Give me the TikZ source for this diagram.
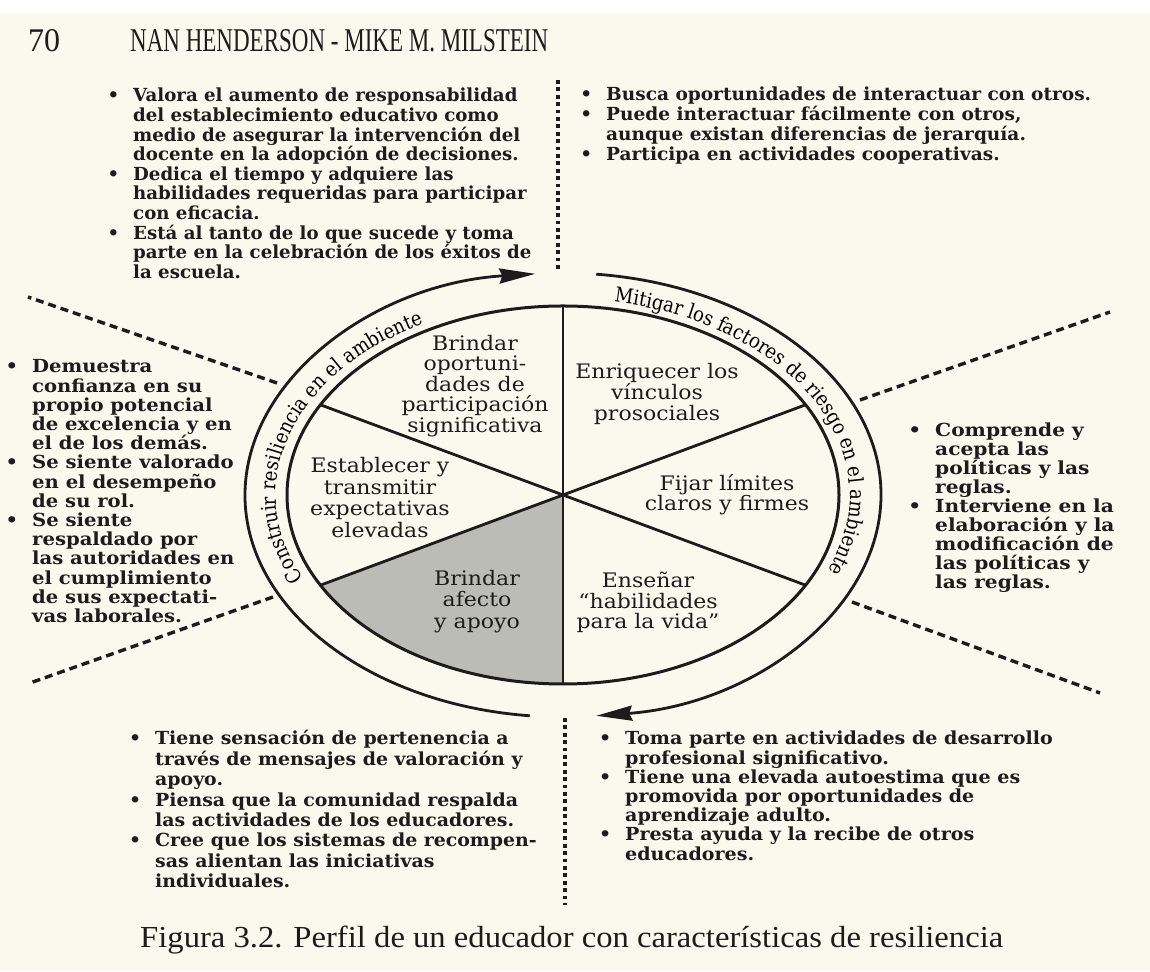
\documentclass[tikz,border=0pt]{standalone}
\usepackage{fontspec}
\setmainfont{DejaVu Serif}
\newfontfamily\headfont{Liberation Serif}
\newfontfamily\labelfont[FakeStretch=1.1]{DejaVu Serif}
\newfontfamily\ringfont[FakeStretch=0.88]{DejaVu Serif}
\newfontfamily\blkTL[FakeStretch=1.01]{DejaVu Serif}
\newfontfamily\blkTR[FakeStretch=1.03]{DejaVu Serif}
\newfontfamily\blkBL[FakeStretch=1.05]{DejaVu Serif}
\newfontfamily\blkBR[FakeStretch=1.06]{DejaVu Serif}
\newfontfamily\blkL[FakeStretch=1.09]{DejaVu Serif}
\newfontfamily\blkR[FakeStretch=1.12]{DejaVu Serif}
\usetikzlibrary{arrows.meta,decorations.text}

\definecolor{paper}{RGB}{249,249,238}
\definecolor{ink}{RGB}{28,28,28}
\definecolor{sectorgray}{RGB}{188,188,182}

% bullet hanging to the left of a line
\newcommand{\itm}{\leavevmode\llap{\textbullet\hspace{14pt}}}
\newcommand{\curvefont}{\ringfont\fontsize{20.5}{20.5}\selectfont}

\tikzset{
  ring/.style={draw=ink, line width=3pt},
  spoke/.style={draw=ink, line width=2.8pt},
  flow/.style={draw=ink, line width=2.8pt, -{Stealth[length=36pt,width=15pt,inset=3pt]}},
  dotline/.style={draw=ink, line width=3.8pt, dash pattern=on 3.8pt off 3.6pt},
  dashline/.style={draw=ink, line width=3.4pt, dash pattern=on 8pt off 5pt},
  sector/.style={align=center, text=ink, inner sep=0pt},
  block/.style={anchor=base west, inner sep=0pt, text=ink},
}

\begin{document}
\begin{tikzpicture}[x=1pt,y=1pt]
\useasboundingbox (0,0) rectangle (1150,971);
\fill[paper] (0,0) rectangle (1150,971);
\fill[white] (0,957) rectangle (1150,971);

% running head
\node[anchor=south west, inner sep=0pt, text=ink] (pagenum) at (28,919)
  {\resizebox{32pt}{22pt}{\headfont 70}};
\node[anchor=south west, inner sep=0pt, text=ink] (authors) at (130,919)
  {\resizebox{418pt}{22pt}{\headfont NAN HENDERSON - MIKE M. MILSTEIN}};

% centre of the wheel
\coordinate (C) at (563,476);

% shaded sector: afecto y apoyo
\fill[sectorgray] (C) -- ([shift={(208.5:276 and 189)}]C)
  arc[start angle=208.5, end angle=270, x radius=276, y radius=189] -- cycle;

% spokes
\coordinate (pT) at ([shift={(90:276 and 189)}]C);
\coordinate (pB) at ([shift={(270:276 and 189)}]C);
\coordinate (pUR) at ([shift={(28.5:276 and 189)}]C);
\coordinate (pLR) at ([shift={(-28.5:276 and 189)}]C);
\coordinate (pUL) at ([shift={(151.5:276 and 189)}]C);
\coordinate (pLL) at ([shift={(208.5:276 and 189)}]C);
\draw[spoke] (pT) -- (pB);
\draw[spoke] (C) -- (pUR);
\draw[spoke] (C) -- (pLR);
\draw[spoke] (C) -- (pUL);
\draw[spoke] (C) -- (pLL);

% inner wheel
\draw[ring] (C) ellipse[x radius=276, y radius=189];

% outer arrows
\draw[flow] ([shift={(264:318 and 222)}]C)
  arc[start angle=264, end angle=95, x radius=318, y radius=222];
\draw[flow] ([shift={(84:318 and 222)}]C)
  arc[start angle=84, end angle=-84, x radius=318, y radius=222];

% lettering along the ring
\path[decorate, decoration={text along path, text align=center,
  text={|\curvefont|Construir resiliencia en el ambiente}}]
  ([shift={(239.5:287 and 196)}]C) arc[start angle=239.5, end angle=89.5, x radius=287, y radius=196];
\path[decorate, decoration={text along path, text align=center,
  text={|\curvefont|Mitigar los factores de riesgo en el ambiente}}]
  ([shift={(101:287 and 196)}]C) arc[start angle=101, end angle=-49, x radius=287, y radius=196];

% sector labels
\node[sector, font=\labelfont\fontsize{20}{20.5}\selectfont] (s1) at (475,585)
  {Brindar\\oportuni-\\dades de\\participación\\significativa};
\node[sector, font=\labelfont\fontsize{20}{21.5}\selectfont] (s2) at (380,473.5)
  {Establecer y\\transmitir\\expectativas\\elevadas};
\node[sector, font=\labelfont\fontsize{20}{21.5}\selectfont] (s3) at (477,369.5)
  {Brindar\\afecto\\y apoyo};
\node[sector, font=\labelfont\fontsize{20}{21}\selectfont] (s4) at (657,577)
  {Enriquecer los\\vínculos\\prosociales};
\node[sector, font=\labelfont\fontsize{20}{20}\selectfont] (s5) at (727,476)
  {Fijar límites\\claros y firmes};
\node[sector, font=\labelfont\fontsize{20}{20.5}\selectfont] (s6) at (648,368.5)
  {Enseñar\\“habilidades\\para la vida”};

% separators
\coordinate (vt1) at (558,891); \coordinate (vt2) at (558,700);
\coordinate (vb1) at (565,253); \coordinate (vb2) at (565,66);
\coordinate (ul1) at (277,588); \coordinate (ul2) at (28,674);
\coordinate (ll1) at (273,374); \coordinate (ll2) at (30,288);
\coordinate (ur1) at (860,571); \coordinate (ur2) at (1110,659);
\coordinate (lr1) at (852,369); \coordinate (lr2) at (1100,278);
\draw[dotline] (vt1) -- (vt2);
\draw[dotline] (vb1) -- (vb2);
\draw[dashline] (ul1) -- (ul2);
\draw[dashline] (ll1) -- (ll2);
\draw[dashline] (ur1) -- (ur2);
\draw[dashline] (lr1) -- (lr2);

% descriptor blocks
\node[block] (tl) at (133,869) {\parbox[t]{440pt}{\raggedright\blkTL\bfseries\fontsize{18}{19.6}\selectfont
\itm Valora el aumento de responsabilidad\\
del establecimiento educativo como\\
medio de asegurar la intervención del\\
docente en la adopción de decisiones.\\
\itm Dedica el tiempo y adquiere las\\
habilidades requeridas para participar\\
con eficacia.\\
\itm Está al tanto de lo que sucede y toma\\
parte en la celebración de los éxitos de\\
la escuela.}};

\node[block] (tr) at (606,870) {\parbox[t]{540pt}{\raggedright\blkTR\bfseries\fontsize{18}{19.8}\selectfont
\itm Busca oportunidades de interactuar con otros.\\
\itm Puede interactuar fácilmente con otros,\\
aunque existan diferencias de jerarquía.\\
\itm Participa en actividades cooperativas.}};

\node[block] (lf) at (32,598) {\parbox[t]{260pt}{\raggedright\blkL\bfseries\fontsize{18}{19.2}\selectfont
\itm Demuestra\\
confianza en su\\
propio potencial\\
de excelencia y en\\
el de los demás.\\
\itm Se siente valorado\\
en el desempeño\\
de su rol.\\
\itm Se siente\\
respaldado por\\
las autoridades en\\
el cumplimiento\\
de sus expectati-\\
vas laborales.}};

\node[block] (rt) at (935,534) {\parbox[t]{220pt}{\raggedright\blkR\bfseries\fontsize{18}{19}\selectfont
\itm Comprende y\\
acepta las\\
políticas y las\\
reglas.\\
\itm Interviene en la\\
elaboración y la\\
modificación de\\
las políticas y\\
las reglas.}};

\node[block] (bl) at (155,226) {\parbox[t]{420pt}{\raggedright\blkBL\bfseries\fontsize{18}{20.4}\selectfont
\itm Tiene sensación de pertenencia a\\
través de mensajes de valoración y\\
apoyo.\\
\itm Piensa que la comunidad respalda\\
las actividades de los educadores.\\
\itm Cree que los sistemas de recompen-\\
sas alientan las iniciativas\\
individuales.}};

\node[block] (br) at (625,226) {\parbox[t]{500pt}{\raggedright\blkBR\bfseries\fontsize{18}{19.2}\selectfont
\itm Toma parte en actividades de desarrollo\\
profesional significativo.\\
\itm Tiene una elevada autoestima que es\\
promovida por oportunidades de\\
aprendizaje adulto.\\
\itm Presta ayuda y la recibe de otros\\
educadores.}};

% caption
\node[anchor=base west, inner sep=0pt, text=ink] (caption) at (140,23)
  {\resizebox{863pt}{21.5pt}{\headfont Figura 3.2. Perfil de un educador con características de resiliencia}};
\end{tikzpicture}
\end{document}
